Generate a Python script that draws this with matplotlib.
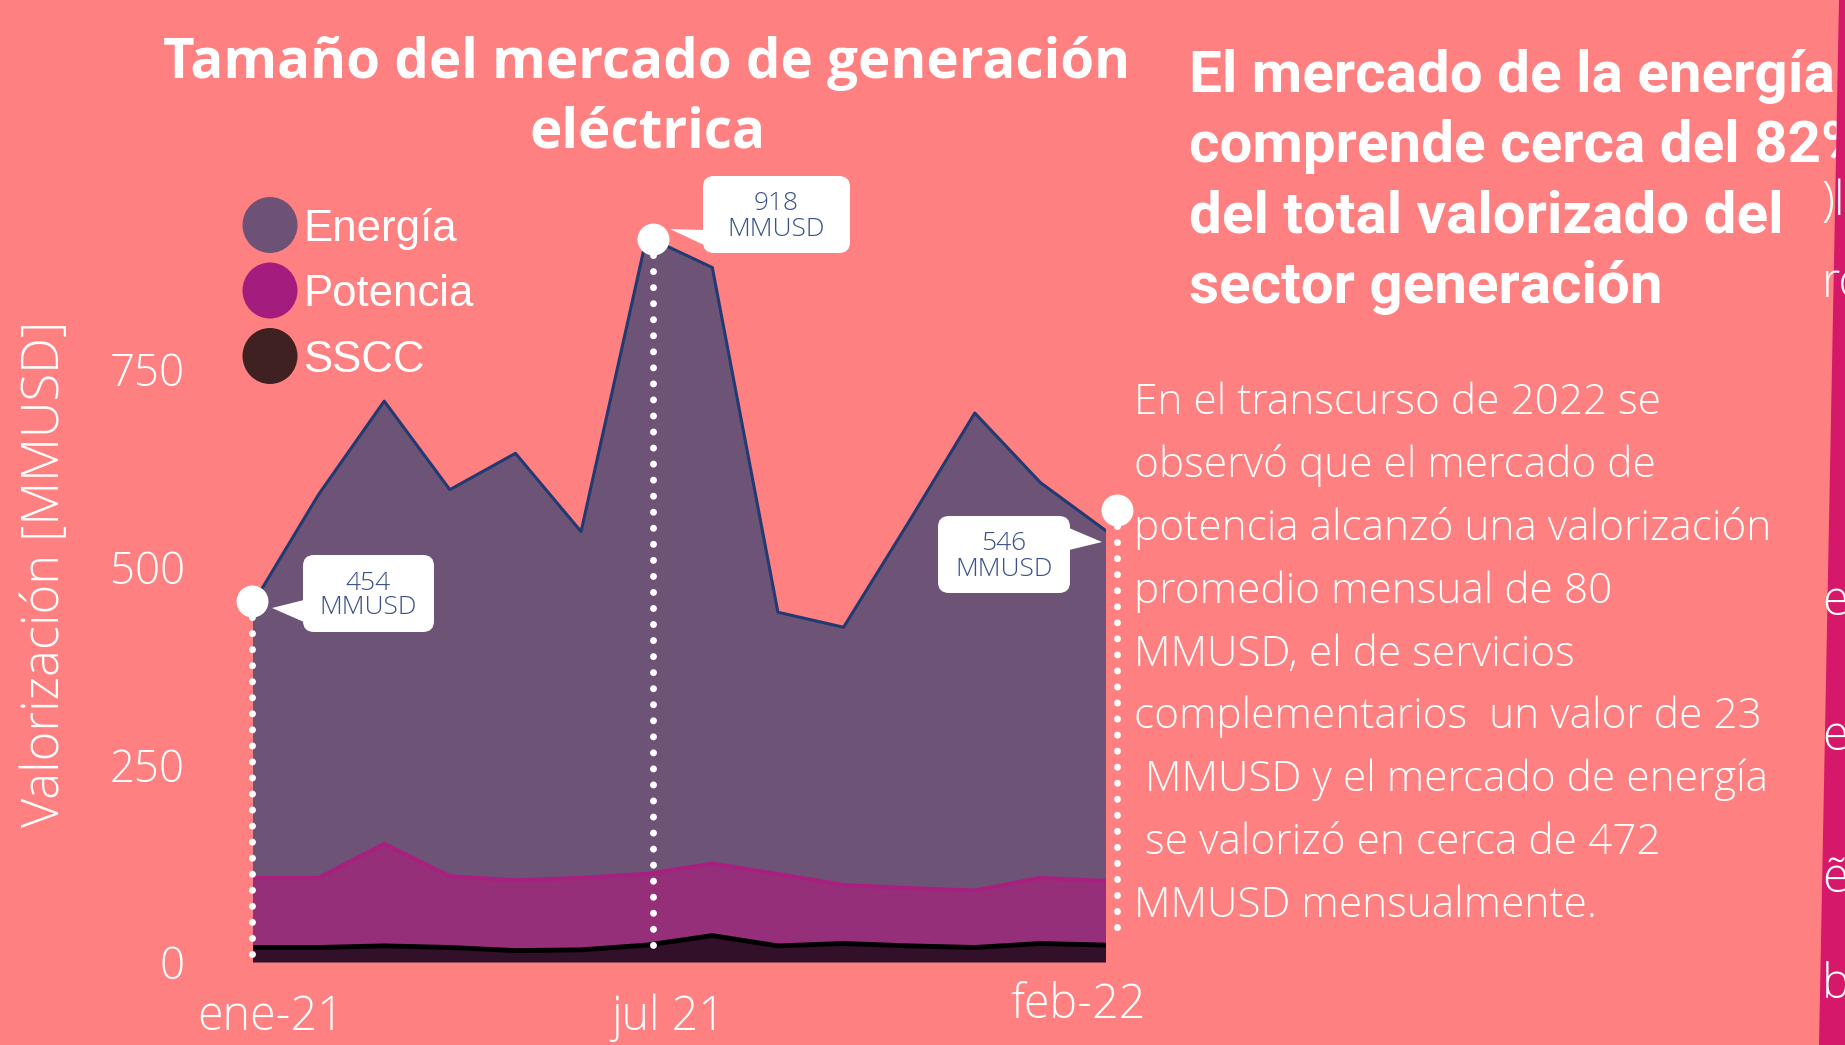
import numpy as np
import matplotlib
matplotlib.use("Agg")
import matplotlib.pyplot as plt
from matplotlib.patches import FancyBboxPatch, Polygon, Ellipse
from matplotlib.transforms import offset_copy

# datos mensuales [MMUSD]
meses = ["ene-21", "feb-21", "mar-21", "abr-21", "may-21", "jun-21", "jul-21",
         "ago-21", "sep-21", "oct-21", "nov-21", "dic-21", "ene-22", "feb-22"]
sscc = [19, 19, 21, 19, 15, 16, 22, 34, 21, 24, 21, 19, 24, 22]
potencia = [88, 88, 129, 90, 89, 91, 90, 91, 91, 74, 73, 72, 83, 81]
energia = [347, 485, 560, 489, 540, 438, 806, 754, 331, 326, 464, 604, 500, 443]

tick_pos = [0, 6, 13]
tick_labels = ["ene-21", "jul 21", "feb-22"]
destacados = [0, 6, 13]

titulo = ["Tamaño del mercado de generación", "eléctrica"]
encabezado = ["El mercado de la energía", "comprende cerca del 82%",
              "del total valorizado del", "sector generación"]
cuerpo = ["En el transcurso de 2022 se",
          "observó que el mercado de",
          "potencia alcanzó una valorización",
          "promedio mensual de 80",
          "MMUSD, el de servicios",
          "complementarios  un valor de 23",
          " MMUSD y el mercado de energía",
          " se valorizó en cerca de 472",
          "MMUSD mensualmente."]

BG = "#FF8080"
W, H = 1845, 1045
C_SSCC, C_POT, C_ENE = "#33102A", "#952F7A", "#6D5476"
AZUL = "#3A5189"

light = dict(family="Open Sans", weight=300)

fig = plt.figure(figsize=(W / 100, H / 100), dpi=100, facecolor=BG)
pix = fig.dpi_scale_trans


def ptxt(x, y, s, **kw):
    # texto en pixeles desde la esquina superior izquierda
    return fig.text(x / 100, (H - y) / 100, s, transform=pix, **kw)


# --- grafico ---
y0_px, ppu = 962.5, 0.79067
ax = fig.add_axes([253 / W, 1 - y0_px / H, (1106 - 253) / W, 1000 * ppu / H])
ax.set_facecolor("none")
ax.set_xlim(0, 13)
ax.set_ylim(0, 1000)
for s in ax.spines.values():
    s.set_visible(False)

x = np.arange(len(meses))
ax.stackplot(x, sscc, potencia, energia, colors=[C_SSCC, C_POT, C_ENE], lw=0)
c1 = np.array(sscc)
c2 = c1 + np.array(potencia)
c3 = c2 + np.array(energia)
ax.plot(x, c3, color="#223A72", lw=2.2)
ax.plot(x, c2, color="#A8207F", lw=3)
ax.plot(x, c1, color="black", lw=3.5)

ax.set_xticks([])
ax.set_yticks([0, 250, 500, 750])
ax.tick_params(axis="y", length=0, pad=49, labelcolor="white")
for t in ax.get_yticklabels():
    t.set_fontproperties(dict(light, size=31.5))

off = [(18, -55), (21, -55), (-28, -43)]
for p, lab, (dx, dy) in zip(tick_pos, tick_labels, off):
    ax.annotate(lab, (p, 0), xytext=(dx, dy), textcoords="offset pixels",
                ha="center", va="center", color="white", size=33.5, **light)

# puntos destacados con linea punteada
dot_off = [(-1, 3), (6, -2), (11, 21)]
fondo = [5, 5, 35]
for i, (dx, dy), yb in zip(destacados, dot_off, fondo):
    tr = offset_copy(ax.transData, fig=fig, x=dx, y=0, units="dots")
    yv = c3[i] + dy / ppu
    ax.plot([i, i], [yv, yb], transform=tr, color="white", lw=5,
            linestyle=(0, (0.01, 2.3)), dash_capstyle="round", clip_on=False, zorder=5)
    ax.plot([i], [yv], "o", ms=23, color="white", mec="none", transform=tr,
            clip_on=False, zorder=6)

# cuadros de etiqueta: (x0, y0, x1, y1), punta, base
cuadros = [((303, 555, 434, 632), (272, 608), ((304, 600), (304, 622))),
           ((703, 176, 850, 253), (670, 229), ((704, 230), (704, 245))),
           ((938, 516, 1070, 593), (1102, 542), ((1069, 528), (1069, 550)))]
for i, (bx, tip, base) in zip(destacados, cuadros):
    x0, y0, x1, y1 = bx
    fig.patches.append(FancyBboxPatch((x0 / 100, (H - y1) / 100), (x1 - x0) / 100,
                                      (y1 - y0) / 100, boxstyle="round,pad=0,rounding_size=0.11",
                                      transform=pix, fc="white", ec="none", zorder=7))
    pts = [tip, base[0], base[1]]
    fig.patches.append(Polygon([(px / 100, (H - py) / 100) for px, py in pts], closed=True,
                               transform=pix, fc="white", ec="none", zorder=7))
    cx = (x0 + x1) / 2
    ptxt(cx, y0 + 28, f"{c3[i]:.0f}", ha="center", va="center", color=AZUL, size=19,
         zorder=8, **light)
    ptxt(cx, y0 + 53, "MMUSD", ha="center", va="center", color=AZUL, size=19,
         zorder=8, **light)

# leyenda
ley = [("Energía", "#6E5275"), ("Potencia", "#A51C7F"), ("SSCC", "#3F2121")]
for k, (nom, col) in enumerate(ley):
    cy = 225 + 65.5 * k
    fig.patches.append(Ellipse((270 / 100, (H - cy) / 100), 0.55, 0.56, transform=pix,
                               fc=col, ec="none"))
    ptxt(303, cy + 16, nom, ha="left", va="baseline", color="white", size=31.5,
         family="Liberation Sans")

# eje y
ptxt(45, 574, "Valorización [MMUSD]", rotation=90, ha="center", va="center",
     color="white", size=36.5, family="Open Sans", weight=300)

# titulo
for k, lin in enumerate(titulo):
    ptxt(647, 78 + 69.5 * k, lin, ha="center", va="baseline", color="white", size=39.4,
         family="Open Sans", weight=700)

# texto lateral
for k, lin in enumerate(encabezado):
    ptxt(1189, 92 + 70.2 * k, lin, ha="left", va="baseline", color="white", size=42,
         family="Roboto", weight=700)
for k, lin in enumerate(cuerpo):
    ptxt(1134, 414 + 62.9 * k, lin, ha="left", va="baseline", color="white", size=30.5,
         **light)

# franja de la siguiente lamina
fig.patches.append(Polygon([(1839 / 100, H / 100), (W / 100 + 0.1, H / 100),
                            (W / 100 + 0.1, 0), (1819 / 100, 0)], closed=True,
                           transform=pix, fc="#D6186A", ec="none", zorder=20))
for y, s in [(215, ")l"), (297, "ró"), (615, "en"), (750, "en"), (892, "ẽ"), (998, "b")]:
    ptxt(1822, y, s, ha="left", va="baseline", color="white", size=34, zorder=21,
         family="Open Sans", weight=300)

fig.savefig("out.png", dpi=100, facecolor=BG)
